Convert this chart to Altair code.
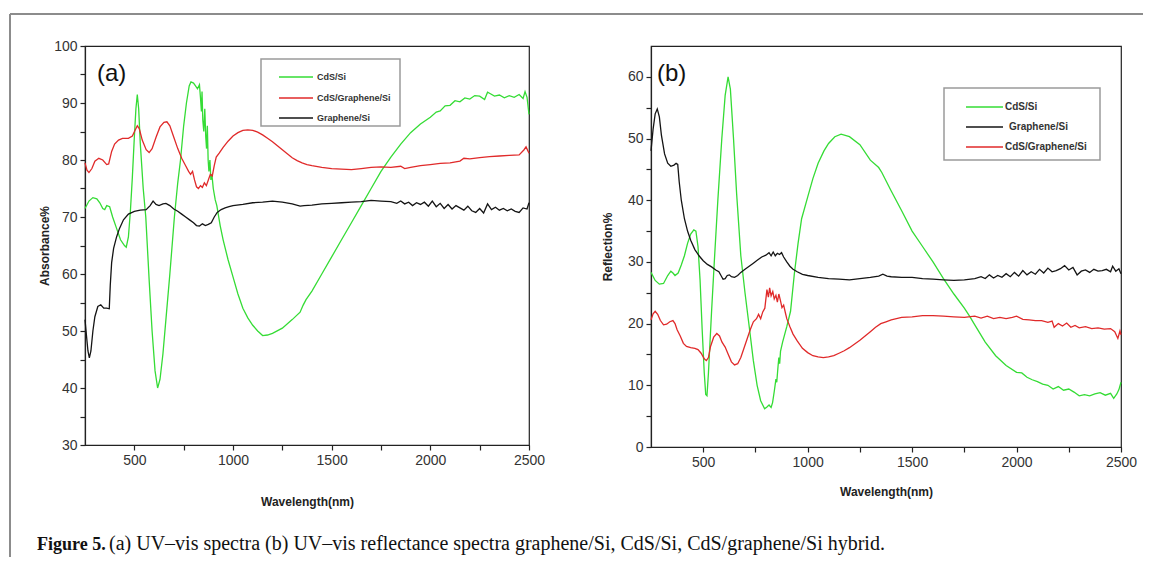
import altair as alt
import pandas as pd

FONT = "Liberation Sans"
SERIF = "Liberation Serif"

SERIES_A = ["CdS/Si", "CdS/Graphene/Si", "Graphene/Si"]
SERIES_B = ["CdS/Si", "Graphene/Si", "CdS/Graphene/Si"]
COLORS = {"CdS/Si": "#35dc35", "CdS/Graphene/Si": "#e02a2a", "Graphene/Si": "#141414"}

X_TICKS = [500, 750, 1000, 1250, 1500, 1750, 2000, 2250, 2500]
Y_TICKS_A = [30, 35, 40, 45, 50, 55, 60, 65, 70, 75, 80, 85, 90, 95, 100]
Y_TICKS_B = [0, 5, 10, 15, 20, 25, 30, 35, 40, 45, 50, 55, 60]

# (a) absorbance, (wavelength nm, value %)
A_CDS = [
    (250, 71.5), (270, 72.8), (290, 73.4), (310, 73.2), (325, 72.5), (340, 71.5), (350, 71.3),
    (360, 72.0), (375, 71.8), (390, 70.0), (410, 68.0), (430, 66.0), (450, 65.0), (459, 64.7),
    (470, 66.5), (480, 71.0), (490, 77.0), (500, 84.0), (508, 89.0), (515, 91.5), (522, 89.0),
    (530, 83.0), (545, 75.0), (558, 70.0), (575, 59.0), (590, 50.0), (605, 43.0), (618, 40.0),
    (630, 41.5), (645, 46.0), (660, 52.0), (680, 60.0), (703, 70.0), (720, 76.0), (734, 80.0),
    (750, 86.0), (764, 90.0), (778, 93.0), (787, 93.7), (800, 93.5), (810, 93.0), (820, 92.5),
    (830, 93.2), (835, 91.0), (840, 88.5), (843, 92.0), (847, 87.0), (852, 85.0), (857, 89.0),
    (862, 84.0), (866, 82.0), (870, 86.0), (874, 80.0), (878, 78.0), (883, 80.0), (888, 76.5),
    (893, 77.5), (900, 75.0), (910, 73.0), (918, 72.0), (935, 68.5), (950, 66.0), (975, 62.5),
    (1000, 59.5), (1025, 56.5), (1050, 54.0), (1075, 52.3), (1100, 51.0), (1125, 50.0),
    (1150, 49.2), (1175, 49.3), (1200, 49.6), (1250, 50.5), (1300, 52.0), (1340, 53.3),
    (1355, 54.5), (1370, 55.5), (1400, 57.0), (1450, 60.0), (1500, 63.0), (1550, 66.0),
    (1600, 69.0), (1650, 72.0), (1700, 75.0), (1750, 78.0), (1800, 80.5), (1850, 82.8),
    (1900, 84.8), (1950, 86.3), (2000, 87.5), (2030, 88.4), (2050, 88.6), (2075, 89.5),
    (2100, 89.6), (2125, 90.4), (2150, 90.2), (2175, 90.9), (2200, 90.7), (2225, 91.3),
    (2250, 91.2), (2275, 90.6), (2290, 91.9), (2300, 91.7), (2325, 91.2), (2350, 91.4),
    (2375, 90.9), (2400, 91.3), (2425, 91.0), (2450, 91.5), (2470, 90.8), (2480, 92.0),
    (2490, 91.0), (2500, 88.0),
]
A_CDS_G = [
    (250, 79.5), (260, 78.2), (270, 77.8), (285, 78.5), (300, 79.8), (320, 80.3), (340, 80.0),
    (360, 79.2), (370, 79.3), (385, 81.5), (400, 82.8), (420, 83.5), (440, 83.8), (470, 83.8),
    (490, 84.2), (505, 85.3), (515, 86.0), (525, 85.5), (540, 83.5), (560, 81.8), (575, 81.3),
    (590, 82.0), (610, 84.0), (630, 85.8), (650, 86.6), (665, 86.7), (680, 86.0), (700, 84.0),
    (720, 82.0), (740, 80.3), (760, 79.0), (775, 78.0), (785, 77.5), (795, 78.0), (805, 76.5),
    (815, 75.3), (825, 75.0), (835, 75.5), (845, 75.2), (855, 76.0), (865, 75.5), (875, 76.5),
    (885, 77.5), (895, 77.2), (905, 79.0), (915, 80.5), (930, 81.2), (950, 82.2), (975, 83.3),
    (1000, 84.2), (1025, 84.8), (1050, 85.2), (1075, 85.3), (1100, 85.2), (1125, 84.9),
    (1150, 84.4), (1175, 83.8), (1200, 83.2), (1225, 82.5), (1250, 81.8), (1275, 81.1),
    (1300, 80.4), (1325, 79.9), (1350, 79.5), (1375, 79.2), (1400, 79.0), (1450, 78.7),
    (1500, 78.5), (1550, 78.4), (1600, 78.3), (1650, 78.5), (1700, 78.7), (1750, 78.8),
    (1800, 78.7), (1850, 78.9), (1870, 78.5), (1900, 78.7), (1950, 79.0), (2000, 79.2),
    (2050, 79.4), (2100, 79.5), (2150, 79.8), (2170, 80.3), (2200, 80.2), (2250, 80.4),
    (2300, 80.6), (2350, 80.7), (2400, 80.8), (2450, 80.9), (2475, 81.8), (2485, 82.3),
    (2500, 81.2),
]
A_G = [
    (250, 52.0), (258, 49.0), (265, 46.5), (272, 45.3), (280, 46.5), (290, 50.0), (300, 52.5),
    (315, 54.3), (330, 54.6), (345, 54.0), (360, 54.0), (373, 53.9), (378, 58.0), (385, 62.0),
    (395, 64.5), (410, 66.5), (425, 68.0), (445, 69.5), (470, 70.5), (500, 71.0), (530, 71.2),
    (560, 71.3), (580, 72.0), (595, 72.8), (610, 72.2), (625, 72.0), (645, 72.3), (660, 72.4),
    (680, 72.0), (700, 71.4), (720, 71.0), (740, 70.5), (760, 70.0), (780, 69.5), (800, 69.0),
    (815, 68.5), (830, 68.4), (845, 68.8), (860, 68.5), (875, 68.7), (890, 69.0), (905, 70.0),
    (920, 70.8), (940, 71.3), (960, 71.6), (980, 71.8), (1000, 72.0), (1050, 72.2), (1100, 72.5),
    (1150, 72.6), (1200, 72.8), (1250, 72.6), (1300, 72.3), (1340, 71.9), (1360, 72.0),
    (1400, 72.1), (1450, 72.3), (1500, 72.4), (1550, 72.5), (1600, 72.6), (1650, 72.7),
    (1700, 72.9), (1750, 72.8), (1800, 72.7), (1830, 72.4), (1850, 72.8), (1870, 72.3),
    (1890, 72.6), (1910, 72.0), (1930, 72.5), (1950, 72.2), (1970, 72.6), (1990, 71.9),
    (2010, 72.8), (2030, 71.8), (2050, 72.4), (2070, 71.5), (2090, 72.2), (2110, 71.4),
    (2130, 72.0), (2150, 71.6), (2170, 71.2), (2190, 71.9), (2210, 71.1), (2230, 70.8),
    (2250, 71.5), (2270, 70.7), (2290, 72.3), (2310, 71.3), (2330, 71.7), (2350, 71.2),
    (2370, 71.5), (2390, 71.1), (2410, 71.4), (2430, 71.0), (2450, 70.8), (2470, 71.6),
    (2490, 71.4), (2500, 72.5),
]

# (b) reflection
B_CDS = [
    (250, 28.3), (270, 27.0), (290, 26.4), (310, 26.5), (330, 27.8), (345, 28.5), (355, 28.2),
    (365, 27.8), (380, 28.2), (395, 29.5), (410, 31.0), (425, 33.0), (440, 34.5), (455, 35.2),
    (465, 35.0), (475, 32.5), (485, 27.0), (495, 19.0), (505, 12.0), (512, 8.5), (518, 8.3),
    (525, 12.0), (540, 22.0), (553, 30.0), (570, 40.0), (589, 50.0), (605, 57.0), (619, 60.0),
    (630, 58.0), (645, 50.0), (660, 41.0), (680, 31.0), (700, 25.0), (722, 19.0), (740, 14.0),
    (758, 10.0), (775, 7.5), (794, 6.2), (805, 6.5), (815, 6.8), (825, 6.4), (832, 7.2),
    (840, 9.0), (848, 11.0), (852, 10.5), (858, 13.0), (862, 14.5), (866, 13.5), (870, 15.5),
    (880, 17.0), (900, 19.5), (918, 22.0), (936, 28.0), (954, 33.0), (971, 37.0), (1000, 40.5),
    (1025, 43.5), (1050, 46.0), (1078, 48.0), (1100, 49.2), (1130, 50.3), (1160, 50.7),
    (1200, 50.3), (1250, 49.0), (1300, 46.5), (1340, 45.3), (1355, 44.5), (1400, 41.5),
    (1450, 38.3), (1500, 35.0), (1550, 32.5), (1600, 30.0), (1650, 27.3), (1700, 24.8),
    (1750, 22.5), (1775, 21.2), (1800, 19.8), (1850, 17.0), (1900, 14.8), (1950, 13.2),
    (2000, 12.1), (2025, 12.0), (2050, 11.3), (2075, 10.9), (2100, 10.6), (2125, 10.2),
    (2150, 10.0), (2175, 9.4), (2200, 9.8), (2225, 9.2), (2250, 9.4), (2275, 8.9), (2300, 8.3),
    (2325, 8.5), (2350, 8.3), (2375, 8.6), (2400, 8.8), (2425, 8.4), (2450, 8.7), (2465, 7.9),
    (2480, 8.6), (2490, 9.3), (2500, 10.5),
]
B_G = [
    (250, 48.0), (260, 51.5), (270, 54.0), (280, 54.8), (290, 53.5), (300, 50.5), (315, 47.5),
    (330, 46.0), (345, 45.5), (360, 45.7), (370, 46.0), (378, 45.8), (385, 43.0), (395, 40.0),
    (410, 37.0), (425, 35.0), (440, 33.5), (460, 32.0), (480, 31.0), (500, 30.2), (520, 29.6),
    (540, 29.2), (560, 28.7), (575, 28.4), (585, 27.8), (595, 27.2), (605, 27.3), (615, 27.8),
    (625, 27.9), (635, 27.6), (650, 27.5), (665, 27.8), (680, 28.3), (700, 28.8), (720, 29.3),
    (740, 29.8), (760, 30.3), (780, 30.8), (800, 31.1), (815, 31.5), (825, 31.0), (835, 31.6),
    (845, 31.0), (855, 31.4), (865, 31.2), (875, 31.5), (885, 30.8), (900, 30.0), (915, 29.3),
    (930, 28.8), (950, 28.4), (975, 28.0), (1000, 27.8), (1050, 27.5), (1100, 27.3),
    (1150, 27.2), (1200, 27.1), (1250, 27.3), (1300, 27.5), (1340, 27.7), (1360, 28.0),
    (1380, 27.7), (1400, 27.6), (1450, 27.5), (1500, 27.5), (1550, 27.3), (1600, 27.2),
    (1650, 27.1), (1700, 27.0), (1750, 27.1), (1800, 27.3), (1830, 27.6), (1850, 27.3),
    (1870, 27.9), (1890, 27.4), (1910, 27.8), (1930, 27.5), (1950, 28.1), (1970, 27.6),
    (1990, 28.3), (2010, 27.7), (2030, 28.6), (2050, 27.9), (2070, 28.4), (2090, 28.0),
    (2110, 28.8), (2130, 28.2), (2150, 29.0), (2170, 28.4), (2190, 28.6), (2210, 28.9),
    (2230, 29.4), (2250, 28.7), (2270, 29.1), (2290, 27.9), (2310, 28.5), (2330, 28.7),
    (2350, 28.3), (2370, 28.8), (2390, 28.5), (2410, 28.6), (2430, 28.8), (2450, 28.4),
    (2460, 29.3), (2475, 28.5), (2490, 28.9), (2500, 28.1),
]
B_CDS_G = [
    (250, 20.6), (260, 21.6), (270, 22.0), (282, 21.5), (295, 20.5), (310, 19.8), (325, 19.9),
    (340, 20.3), (355, 20.5), (365, 20.0), (375, 19.0), (390, 18.0), (405, 16.8), (420, 16.3),
    (440, 16.1), (460, 16.0), (475, 15.8), (490, 15.2), (505, 14.3), (515, 14.0), (525, 14.5),
    (535, 16.3), (550, 17.8), (565, 18.4), (578, 18.0), (590, 17.0), (605, 16.2), (620, 15.0),
    (635, 13.8), (650, 13.3), (665, 13.5), (680, 14.5), (695, 16.0), (710, 17.5), (725, 19.0),
    (740, 20.3), (755, 20.8), (765, 21.5), (775, 20.8), (785, 21.9), (795, 22.5), (805, 25.5),
    (812, 24.3), (818, 25.8), (825, 24.5), (833, 25.2), (840, 24.0), (848, 24.6), (855, 23.5),
    (862, 24.8), (870, 23.7), (877, 22.6), (885, 23.0), (893, 21.8), (900, 20.8), (915, 19.5),
    (930, 18.3), (950, 17.2), (975, 16.0), (1000, 15.3), (1025, 14.8), (1050, 14.6),
    (1075, 14.5), (1100, 14.6), (1125, 14.8), (1150, 15.2), (1175, 15.6), (1200, 16.1),
    (1225, 16.7), (1250, 17.3), (1275, 18.0), (1300, 18.7), (1325, 19.4), (1350, 20.0),
    (1375, 20.3), (1400, 20.6), (1450, 21.0), (1500, 21.1), (1550, 21.3), (1600, 21.3),
    (1650, 21.2), (1700, 21.1), (1750, 21.0), (1800, 21.2), (1830, 20.9), (1860, 21.2),
    (1890, 20.8), (1920, 21.0), (1950, 20.8), (1980, 21.0), (2000, 21.2), (2030, 20.7),
    (2060, 20.6), (2090, 20.5), (2120, 20.5), (2150, 20.2), (2170, 20.4), (2180, 19.4),
    (2200, 20.0), (2220, 19.6), (2240, 20.1), (2260, 19.4), (2280, 19.7), (2300, 19.3),
    (2330, 19.5), (2360, 19.2), (2390, 19.3), (2420, 19.1), (2450, 19.2), (2470, 18.7),
    (2485, 17.6), (2495, 18.8), (2500, 18.2),
]

CAPTION_BOLD = "Figure 5."
CAPTION_REST = "(a) UV\u2013vis spectra (b) UV\u2013vis reflectance spectra graphene/Si, CdS/Si, CdS/graphene/Si hybrid."


def long_df(parts):
    frames = []
    for name, pts in parts:
        frames.append(pd.DataFrame({"wl": [p[0] for p in pts], "val": [p[1] for p in pts], "series": name}))
    return pd.concat(frames, ignore_index=True)


df_a = long_df([("CdS/Si", A_CDS), ("CdS/Graphene/Si", A_CDS_G), ("Graphene/Si", A_G)])
df_b = long_df([("CdS/Si", B_CDS), ("Graphene/Si", B_G), ("CdS/Graphene/Si", B_CDS_G)])
one = pd.DataFrame({"k": [0]})

color_scale = alt.Scale(domain=SERIES_A, range=[COLORS[s] for s in SERIES_A])

AX_COMMON = dict(
    labelFont=FONT, labelFontSize=14, labelColor="#333333", tickSize=5, tickColor="#222222",
    tickWidth=1.2, domainColor="#222222", domainWidth=1.2, labelFlush=False, labelOverlap=False,
    grid=False, titleFont=FONT, titleFontSize=12, titleFontWeight="bold", titleColor="#222222",
    titleBaseline="middle",
)


def x_axis(w, ty):
    return alt.Axis(values=X_TICKS, format="d", labelExpr="datum.value % 500 === 0 ? datum.label : ''",
                    title="Wavelength(nm)", titleX=w / 2, titleY=ty, labelPadding=3, **AX_COMMON)


def y_axis(vals, title, h, tx):
    return alt.Axis(values=vals, format="d", labelExpr="datum.value % 10 === 0 ? datum.label : ''",
                    title=title, titleX=tx, titleY=h / 2, labelPadding=3, **AX_COMMON)


def legend_layers(series, box, line_x, ys, label_x, fsize):
    layers = [alt.Chart(one).mark_rect(fill="white", stroke="#9a9a9a", strokeWidth=1.5).encode(
        x=alt.value(box[0]), x2=alt.value(box[1]), y=alt.value(box[2]), y2=alt.value(box[3]))]
    for s, yy, lx in zip(series, ys, label_x):
        layers.append(alt.Chart(one).mark_rule(color=COLORS[s], strokeWidth=1.6).encode(
            x=alt.value(line_x[0]), x2=alt.value(line_x[1]), y=alt.value(yy)))
        layers.append(alt.Chart(one).mark_text(align="left", baseline="middle", font=FONT, fontSize=fsize,
                                               fontWeight="bold", color="#333333").encode(
            x=alt.value(lx), y=alt.value(yy), text=alt.value(s)))
    return layers


W_A, H_A = 444, 399
W_B, H_B = 470, 401

lines_a = alt.Chart(df_a).mark_line(strokeWidth=1.3).encode(
    x=alt.X("wl:Q", scale=alt.Scale(domain=[250, 2500], nice=False, zero=False), axis=x_axis(W_A, 56)),
    y=alt.Y("val:Q", scale=alt.Scale(domain=[30, 100], nice=False, zero=False),
            axis=y_axis(Y_TICKS_A, "Absorbance%", H_A, -41)),
    color=alt.Color("series:N", scale=color_scale, legend=None),
)

frame_left = alt.Chart(one).mark_rule(color="#8c8c8c", strokeWidth=2).encode(
    x=alt.value(-75), y=alt.value(-32), y2=alt.value(511))
frame_top = alt.Chart(one).mark_rule(color="#8c8c8c", strokeWidth=2).encode(
    x=alt.value(-75), x2=alt.value(1058), y=alt.value(-32))
tag_a = alt.Chart(one).mark_text(align="left", baseline="middle", font=FONT, fontSize=24, color="#111111").encode(
    x=alt.value(12), y=alt.value(28), text=alt.value("(a)"))
cap_bold = alt.Chart(one).mark_text(align="left", baseline="alphabetic", font=SERIF, fontSize=18,
                                    fontWeight="bold", color="#111111").encode(
    x=alt.value(-48), y=alt.value(504), text=alt.value(CAPTION_BOLD))
cap_rest = alt.Chart(one).mark_text(align="left", baseline="alphabetic", font=SERIF, fontSize=20,
                                    color="#111111").encode(
    x=alt.value(24), y=alt.value(504), text=alt.value(CAPTION_REST))

left = alt.layer(
    lines_a, tag_a,
    *legend_layers(SERIES_A, (176, 315, 13, 80), (194, 228), (31, 52, 72), (232, 232, 232), 9),
    frame_left, frame_top, cap_bold, cap_rest,
).properties(width=W_A, height=H_A)

lines_b = alt.Chart(df_b).mark_line(strokeWidth=1.3).encode(
    x=alt.X("wl:Q", scale=alt.Scale(domain=[250, 2500], nice=False, zero=False), axis=x_axis(W_B, 44)),
    y=alt.Y("val:Q", scale=alt.Scale(domain=[0, 65], nice=False, zero=False),
            axis=y_axis(Y_TICKS_B, "Reflection%", H_B, -44)),
    color=alt.Color("series:N", scale=color_scale, legend=None),
)
tag_b = alt.Chart(one).mark_text(align="left", baseline="middle", font=FONT, fontSize=24, color="#111111").encode(
    x=alt.value(6), y=alt.value(28), text=alt.value("(b)"))

right = alt.layer(
    lines_b, tag_b,
    *legend_layers(SERIES_B, (293, 449, 42, 114), (315, 352), (61, 81, 101), (354, 358, 354), 10),
).properties(width=W_B, height=H_B)

chart = alt.hconcat(left, right, spacing=122, bounds="flush").properties(
    padding={"left": 0, "top": 4, "right": 0, "bottom": 0}
).resolve_scale(x="independent", y="independent").configure_view(stroke="#222222", strokeWidth=1.2)

chart.save("out.html", embed_options={"renderer": "svg", "actions": False})
